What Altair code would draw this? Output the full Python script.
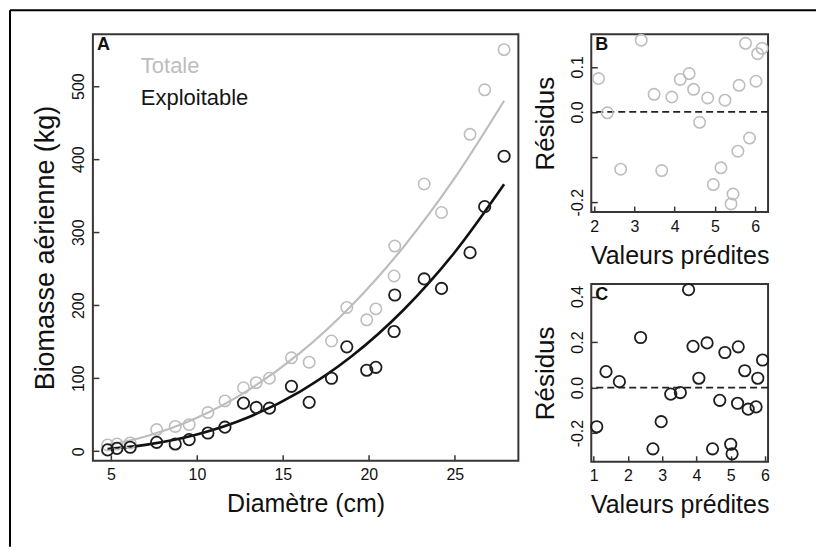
import altair as alt
import pandas as pd

# ---------------- data ----------------
# Panel A : biomass vs diameter (one tree per entry)
diametre = [4.81, 5.35, 6.12, 7.66, 8.74, 9.55, 10.64, 11.63, 12.71, 13.45, 14.22, 15.5,
            16.53, 17.83, 18.72, 19.88, 20.41, 21.47, 21.51, 23.22, 24.23, 25.89, 26.74, 27.87]
biomasse_totale = [8.7, 10, 11.5, 29.7, 34, 36.5, 53, 69, 87, 94, 100, 128,
                   122, 151, 197, 180, 195, 240, 281, 366, 327, 434, 495, 550]
biomasse_exploitable = [1.9, 4, 5.5, 12.3, 10, 16, 25, 33, 66, 60, 59, 89,
                        67, 100, 143, 111, 115, 164, 214, 236, 223, 272, 335, 404]

# fitted curves, read at a few diameters
courbe_diametre = [4.8, 7, 10, 13, 16, 19, 22, 25, 27.87]
courbe_totale = [8.5, 20.3, 45.9, 83.8, 134.7, 199.6, 279.3, 374.3, 480]
courbe_exploitable = [3.2, 8.8, 23.0, 46.6, 81.8, 130.0, 193.1, 272.6, 365.6]

# Panel B : residuals (Totale)
predites_b = [2.11, 2.33, 2.66, 3.17, 3.49, 3.68, 3.93, 4.14, 4.36, 4.47, 4.62, 4.82,
              4.96, 5.15, 5.25, 5.45, 5.40, 5.57, 5.60, 5.76, 5.86, 6.02, 6.06, 6.17]
residus_b = [0.074, -0.002, -0.127, 0.159, 0.039, -0.130, 0.033, 0.072, 0.085, 0.050, -0.023, 0.031,
             -0.161, -0.124, 0.026, -0.182, -0.204, -0.087, 0.059, 0.152, -0.058, 0.068, 0.129, 0.141]

# Panel C : residuals (Exploitable)
predites_c = [1.09, 1.36, 1.75, 2.37, 2.73, 2.97, 3.25, 3.53, 3.77, 3.90, 4.07, 4.31,
              4.47, 4.68, 4.83, 5.00, 5.04, 5.20, 5.22, 5.41, 5.51, 5.74, 5.79, 5.93]
residus_c = [-0.172, 0.070, 0.026, 0.220, -0.269, -0.150, -0.029, -0.022, 0.430, 0.181, 0.041, 0.196,
             -0.269, -0.056, 0.154, -0.249, -0.291, -0.069, 0.179, 0.074, -0.095, -0.085, 0.041, 0.121]

legend_labels = ["Totale", "Exploitable"]
panel_letters = ["A", "B", "C"]

x_ticks_a = [5, 10, 15, 20, 25]
y_ticks_a = [0, 100, 200, 300, 400, 500]
x_ticks_b = [2, 3, 4, 5, 6]
y_ticks_b = [-0.2, -0.1, 0.0, 0.1]
x_ticks_c = [1, 2, 3, 4, 5, 6]
y_ticks_c = [-0.2, 0.0, 0.2, 0.4]

# ---------------- styling ----------------
FONT = "Liberation Sans"
FRAME = "#3b3434"
GRAY = "#bdbdbd"
DARK = "#1e1e1e"

WA, HA = 426, 427
WB, HB = 177, 178


def sc(dom):
    return alt.Scale(domain=dom, nice=False, zero=False)


def lab_x(values, title):
    return alt.Axis(orient="bottom", values=values, title=title, ticks=False, tickSize=0,
                    domain=False, grid=False, labelPadding=6, titlePadding=9,
                    labelFlush=False, labelOverlap=False)


def lab_y(values, title, title_size, label_expr=None):
    kw = dict(orient="left", values=values, title=title, ticks=False, tickSize=0,
              domain=False, grid=False, labelAngle=-90, labelAlign="center",
              labelBaseline="bottom", labelPadding=6, titlePadding=11,
              titleFontSize=title_size, labelFlush=False, labelOverlap=False)
    if label_expr:
        kw["labelExpr"] = label_expr
    return alt.Axis(**kw)


def tick_x(values, h):
    return alt.Axis(orient="top", offset=-h, values=values, title=None, labels=False,
                    ticks=True, tickSize=6, domain=False, grid=False)


def tick_y(values, w):
    return alt.Axis(orient="right", offset=-w, values=values, title=None, labels=False,
                    ticks=True, tickSize=6, domain=False, grid=False)


one = pd.DataFrame({"a": [0]})


def letter(t):
    return alt.Chart(one).mark_text(text=t, font=FONT, fontWeight="bold", fontSize=18,
                                    align="left", baseline="top", color="#111").encode(
        x=alt.value(4), y=alt.value(2))


# ---------------- Panel A ----------------
dfA = pd.DataFrame({"d": diametre, "t": biomasse_totale, "e": biomasse_exploitable})
dfCurve = pd.DataFrame({"d": courbe_diametre, "t": courbe_totale, "e": courbe_exploitable})
xsA = sc([3.95, 28.7])
ysA = sc([-13, 571])

ptsT = alt.Chart(dfA).mark_point(shape="circle", size=130, strokeWidth=1.6, color=GRAY,
                                 filled=False, opacity=1).encode(
    x=alt.X("d:Q", scale=xsA, axis=lab_x(x_ticks_a, "Diamètre (cm)")),
    y=alt.Y("t:Q", scale=ysA, axis=lab_y(y_ticks_a, "Biomasse aérienne (kg)", 27)))

ptsE = alt.Chart(dfA).mark_point(shape="circle", size=130, strokeWidth=1.8, color=DARK,
                                 filled=False, opacity=1).encode(
    x=alt.X("d:Q", scale=xsA, axis=tick_x(x_ticks_a, HA)),
    y=alt.Y("e:Q", scale=ysA, axis=tick_y(y_ticks_a, WA)))

lineT = alt.Chart(dfCurve).mark_line(interpolate="monotone", color=GRAY, strokeWidth=2.2).encode(
    x=alt.X("d:Q", scale=xsA, axis=None), y=alt.Y("t:Q", scale=ysA, axis=None))
lineE = alt.Chart(dfCurve).mark_line(interpolate="monotone", color="#111", strokeWidth=2.6).encode(
    x=alt.X("d:Q", scale=xsA, axis=None), y=alt.Y("e:Q", scale=ysA, axis=None))

legT = alt.Chart(pd.DataFrame({"lab": [legend_labels[0]]})).mark_text(
    font=FONT, fontSize=22, align="left", baseline="middle", color=GRAY).encode(
    text="lab:N", x=alt.value(48), y=alt.value(32))
legE = alt.Chart(pd.DataFrame({"lab": [legend_labels[1]]})).mark_text(
    font=FONT, fontSize=22, align="left", baseline="middle", color="#151515").encode(
    text="lab:N", x=alt.value(48), y=alt.value(64))

frameV = alt.Chart(one).mark_rule(color="#000", strokeWidth=2).encode(
    x=alt.value(-83), y=alt.value(-24), y2=alt.value(513))
frameH = alt.Chart(one).mark_rule(color="#000", strokeWidth=2).encode(
    x=alt.value(-83), x2=alt.value(724), y=alt.value(-24))

panelA = alt.layer(lineT, lineE, ptsT, ptsE, legT, legE, letter(panel_letters[0]), frameV, frameH).resolve_axis(
    x="independent", y="independent").properties(width=WA, height=HA)

# ---------------- Panel B ----------------
dfB = pd.DataFrame({"p": predites_b, "r": residus_b})
xsB = sc([1.93, 6.32])
ysB = sc([-0.222, 0.172])
exprB = "abs(datum.value + 0.1) < 1e-6 ? '' : (datum.value < -1e-9 ? '-' : '') + format(abs(datum.value), '.1f')"

ptsB = alt.Chart(dfB).mark_point(shape="circle", size=130, strokeWidth=1.6, color=GRAY,
                                 filled=False, opacity=1).encode(
    x=alt.X("p:Q", scale=xsB, axis=lab_x(x_ticks_b, "Valeurs prédites")),
    y=alt.Y("r:Q", scale=ysB, axis=lab_y(y_ticks_b, "Résidus", 26, exprB)))
ticksB = alt.Chart(dfB).mark_point(opacity=0).encode(
    x=alt.X("p:Q", scale=xsB, axis=tick_x(x_ticks_b, HB)),
    y=alt.Y("r:Q", scale=ysB, axis=tick_y(y_ticks_b, WB)))
zeroB = alt.Chart(pd.DataFrame({"z": [0.0]})).mark_rule(strokeDash=[7, 4], strokeWidth=1.8, color="#222").encode(
    y=alt.Y("z:Q", scale=ysB, axis=None))

panelB = alt.layer(zeroB, ptsB, ticksB, letter(panel_letters[1])).resolve_axis(
    x="independent", y="independent").properties(width=WB, height=HB)

# ---------------- Panel C ----------------
dfC = pd.DataFrame({"p": predites_c, "r": residus_c})
xsC = sc([0.93, 6.09])
ysC = sc([-0.326, 0.455])
exprC = "(datum.value < -1e-9 ? '-' : '') + format(abs(datum.value), '.1f')"

ptsC = alt.Chart(dfC).mark_point(shape="circle", size=130, strokeWidth=1.8, color=DARK,
                                 filled=False, opacity=1).encode(
    x=alt.X("p:Q", scale=xsC, axis=lab_x(x_ticks_c, "Valeurs prédites")),
    y=alt.Y("r:Q", scale=ysC, axis=lab_y(y_ticks_c, "Résidus", 26, exprC)))
ticksC = alt.Chart(dfC).mark_point(opacity=0).encode(
    x=alt.X("p:Q", scale=xsC, axis=tick_x(x_ticks_c, HB)),
    y=alt.Y("r:Q", scale=ysC, axis=tick_y(y_ticks_c, WB)))
zeroC = alt.Chart(pd.DataFrame({"z": [0.0]})).mark_rule(strokeDash=[7, 4], strokeWidth=1.8, color="#222").encode(
    y=alt.Y("z:Q", scale=ysC, axis=None))

panelC = alt.layer(zeroC, ptsC, ticksC, letter(panel_letters[2])).resolve_axis(
    x="independent", y="independent").properties(width=WB, height=HB)

right = alt.vconcat(panelB, panelC, spacing=72, bounds="flush")

chart = alt.hconcat(panelA, right, spacing=73, bounds="flush", padding=0).configure_view(
    stroke=FRAME, strokeWidth=2
).configure_axis(
    labelFont=FONT, titleFont=FONT, labelFontSize=16, titleFontSize=25,
    titleFontWeight="normal", labelColor="#111", titleColor="#111",
    tickColor=FRAME, tickWidth=1.5
)

chart.save("out.html", embed_options={"renderer": "svg", "actions": False})
